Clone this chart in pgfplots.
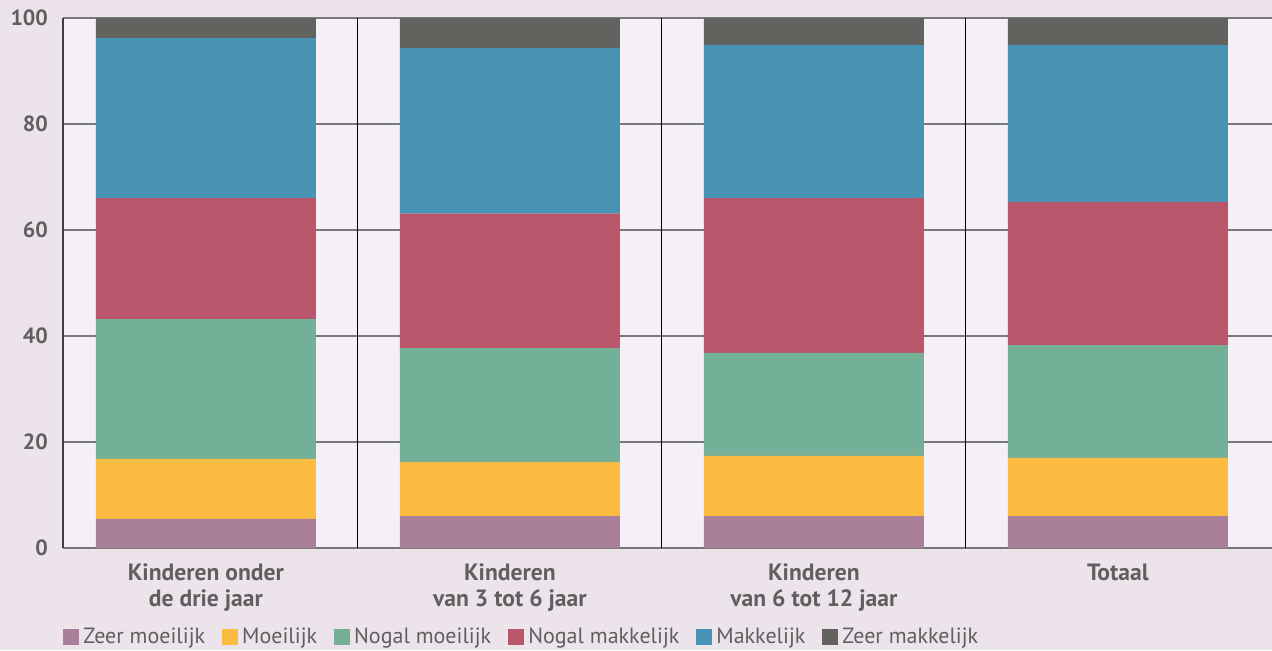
\documentclass[border=0pt]{standalone}
\usepackage{fontspec}
\setmainfont{PT Sans}
\usepackage{pgfplots}
\pgfplotsset{compat=1.18}
\definecolor{bg}{RGB}{237,227,235}
\definecolor{plotbg}{RGB}{245,240,245}
\definecolor{cZM}{RGB}{170,127,153}
\definecolor{cM}{RGB}{252,188,65}
\definecolor{cNM}{RGB}{116,176,151}
\definecolor{cNK}{RGB}{185,86,107}
\definecolor{cK}{RGB}{73,148,180}
\definecolor{cZK}{RGB}{98,98,95}
\definecolor{txt}{RGB}{95,95,95}
\definecolor{gridc}{RGB}{120,120,120}
\begin{document}
\begin{tikzpicture}
\fill[bg] (0,0) rectangle (636pt,325pt);
\useasboundingbox (0,0) rectangle (636pt,325pt);
\begin{axis}[
  at={(31.5pt,51pt)}, anchor=south west,
  scale only axis, width=604.5pt, height=265pt,
  ybar stacked, bar width=110pt,
  xmin=-0.47, xmax=3.507, ymin=0, ymax=100,
  axis background/.style={fill=plotbg},
  axis lines*=left,
  x axis line style={draw=gridc, line width=0.8pt},
  y axis line style={draw=black!75, line width=0.8pt},
  xtick={0,1,2,3},
  xticklabels={{Kinderen onder\\de drie jaar},{Kinderen\\van 3 tot 6 jaar},{Kinderen\\van 6 tot 12 jaar},{Totaal}},
  xticklabel style={align=center, font=\bfseries\fontsize{11.8}{13}\selectfont, text=txt, yshift=-4.5pt},
  ytick={0,20,40,60,80,100},
  yticklabel style={font=\bfseries\fontsize{11}{13}\selectfont, text=txt, xshift=-4pt},
  /pgf/number format/assume math mode=true,
  major tick length=0pt,
  ymajorgrids, major grid style={draw=gridc, line width=0.7pt},
  extra x ticks={0.5,1.5,2.5}, extra x tick labels={},
  extra x tick style={grid=major, major grid style={draw=black, line width=0.5pt}},
  legend image code/.code={\fill[#1,draw=none] (0pt,-4pt) rectangle (8pt,4pt);},
  legend style={at={(0,-0.168)}, anchor=west, draw=none, fill=none, legend columns=-1,
    inner sep=0pt, font=\fontsize{11}{13}\selectfont, text=txt,
    /tikz/every even column/.append style={column sep=6.5pt}},
]
\addplot[fill=cZM, draw=none] coordinates {(0,5.5) (1,6.0) (2,6.0) (3,6.0)};
\addplot[fill=cM, draw=none] coordinates {(0,11.3) (1,10.2) (2,11.4) (3,11.0)};
\addplot[fill=cNM, draw=none] coordinates {(0,26.4) (1,21.5) (2,19.4) (3,21.3)};
\addplot[fill=cNK, draw=none] coordinates {(0,22.8) (1,25.4) (2,29.2) (3,27.0)};
\addplot[fill=cK, draw=none] coordinates {(0,30.2) (1,31.2) (2,28.9) (3,29.6)};
\addplot[fill=cZK, draw=none] coordinates {(0,3.8) (1,5.7) (2,5.1) (3,5.1)};
\legend{Zeer moeilijk, Moeilijk, Nogal moeilijk, Nogal makkelijk, Makkelijk, Zeer makkelijk}
\end{axis}
\end{tikzpicture}
\end{document}
